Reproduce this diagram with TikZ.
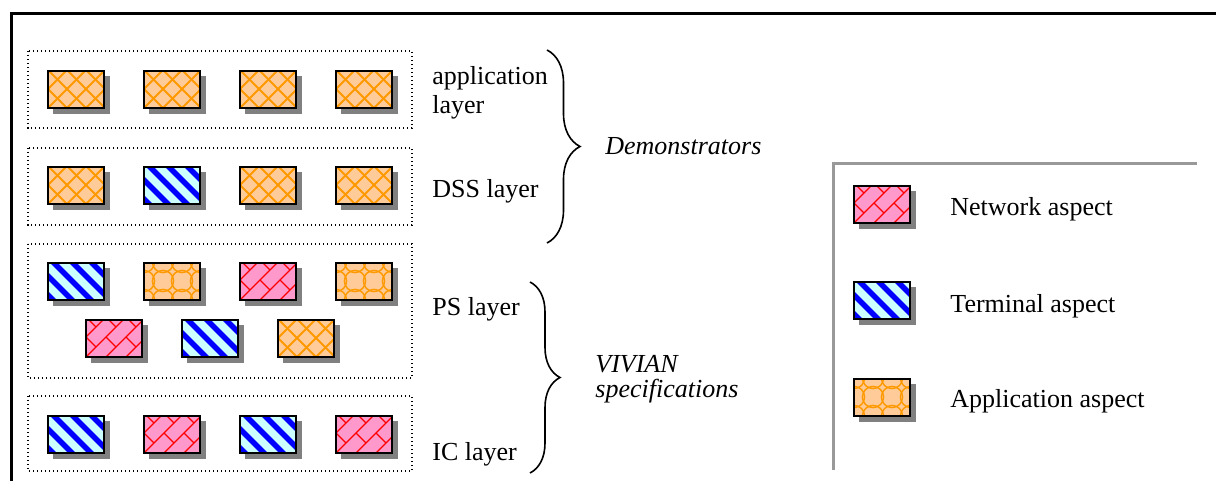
\documentclass[tikz,border=0pt]{standalone}
\usepackage{fontspec}
\setmainfont{Liberation Serif}
\usetikzlibrary{decorations.pathreplacing}
\definecolor{appfill}{HTML}{FFCC99}
\definecolor{appline}{HTML}{FF9900}
\definecolor{termfill}{HTML}{CCFFFF}
\definecolor{termline}{HTML}{0000FF}
\definecolor{netfill}{HTML}{FF99CC}
\definecolor{netline}{HTML}{FF0000}
\definecolor{shade}{HTML}{808080}
\definecolor{legline}{HTML}{999999}
\tikzset{
  boxbase/.style={draw=black, line width=1pt, minimum width=28pt, minimum height=18.5pt,
    inner sep=0pt, outer sep=0pt, anchor=north west},
  appx/.style={boxbase, fill=appfill, path picture={
      \foreach \i in {-3,...,5} {
        \draw[appline, line width=0.9pt] (path picture bounding box.south west) ++(\i*9.5pt,0pt) -- ++(25pt,25pt);
        \draw[appline, line width=0.9pt] (path picture bounding box.south west) ++(\i*9.5pt,0pt) -- ++(-25pt,25pt);}
    }},
  appc/.style={boxbase, fill=appfill, path picture={
      \foreach \i in {0,...,3} {\foreach \j in {0,...,2} {
        \draw[appline, line width=0.7pt] (path picture bounding box.south west) ++(\i*9.5pt,\j*9.5pt) circle (5.3pt);}}
    }},
  term/.style={boxbase, fill=termfill, path picture={
      \foreach \i in {-3,...,3} {
        \draw[termline, line width=2.8pt] (path picture bounding box.north west) ++(\i*9.5pt+1pt,2pt) -- ++(27pt,-27pt);}
    }},
  net/.style={boxbase, fill=netfill, path picture={
      \foreach \k in {-3,...,3} {
        \draw[netline, line width=0.6pt] (path picture bounding box.south west) ++(\k*10pt,0pt) -- ++(30pt,30pt);
        \foreach \j in {-1,...,3} {
          \draw[netline, line width=0.6pt] (path picture bounding box.south west) ++(\k*10pt+\j*10pt,\j*10pt) -- ++(5pt,-5pt);}}
    }},
  shadowbox/.style={fill=shade},
  lbl/.style={anchor=base west, inner sep=0pt, font=\fontsize{13pt}{14.5pt}\selectfont\rmfamily},
  itlbl/.style={lbl, font=\fontsize{13pt}{11.5pt}\selectfont\rmfamily\itshape},
  dotbox/.style={line width=0.7pt, dash pattern=on 0.7pt off 1.3pt},
  brc/.style={decorate, line width=0.8pt},
}
% #1 style, #2 name, #3 x, #4 y (pixels, top-left of the box)
\newcommand\aspectbox[4]{%
  \fill[shadowbox] (#3+5,#4+5) rectangle ++(57,38);
  \node[#1] (#2) at (#3,#4) {};
}
\begin{document}
\begin{tikzpicture}[x=0.5pt, y=-0.5pt]
\useasboundingbox (0,0) rectangle (1216,481);
% outer frame
\draw[line width=1.5pt] (1216,14) -- (11,14) -- (11,481);
% layer boxes
\draw[dotbox] (28,51) rectangle (412,128);
\draw[dotbox] (28,148) rectangle (412,225);
\draw[dotbox] (28,244) rectangle (412,378);
\draw[dotbox] (28,396) rectangle (412,471);
% application layer
\aspectbox{appx}{a1}{48}{71}
\aspectbox{appx}{a2}{144}{71}
\aspectbox{appx}{a3}{240}{71}
\aspectbox{appx}{a4}{336}{71}
% DSS layer
\aspectbox{appx}{d1}{48}{167}
\aspectbox{term}{d2}{144}{167}
\aspectbox{appx}{d3}{240}{167}
\aspectbox{appx}{d4}{336}{167}
% PS layer
\aspectbox{term}{p1}{48}{263}
\aspectbox{appc}{p2}{144}{263}
\aspectbox{net}{p3}{240}{263}
\aspectbox{appc}{p4}{336}{263}
\aspectbox{net}{q1}{86}{320}
\aspectbox{term}{q2}{182}{320}
\aspectbox{appx}{q3}{278}{320}
% IC layer
\aspectbox{term}{i1}{48}{416}
\aspectbox{net}{i2}{144}{416}
\aspectbox{term}{i3}{240}{416}
\aspectbox{net}{i4}{336}{416}
% legend
\draw[legline, line width=1.5pt] (833,470) -- (833,164) -- (1197,164);
\aspectbox{net}{ln}{854}{186}
\aspectbox{term}{lt}{854}{282}
\aspectbox{appc}{la}{854}{379}
\node[lbl] (tn) at (950,215) {Network aspect};
\node[lbl] (tt) at (950,312) {Terminal aspect};
\node[lbl] (ta) at (950,407) {Application aspect};
% labels
\node[lbl] (lapp) at (432,85) {\begin{tabular}[t]{@{}l@{}}application\\layer\end{tabular}};
\node[lbl] (ldss) at (432,198) {DSS layer};
\node[lbl] (lps) at (432,315) {PS layer};
\node[lbl] (lic) at (432,460) {IC layer};
% braces
\coordinate (bd1) at (547,50);
\coordinate (bd2) at (547,243);
\draw[brc, decoration={brace, amplitude=16.5pt}] (bd1) -- (bd2);
\coordinate (bv1) at (530,282);
\coordinate (bv2) at (530,473);
\draw[brc, decoration={brace, amplitude=15pt}] (bv1) -- (bv2);
\node[itlbl] (demo) at (605,155) {Demonstrators};
\node[itlbl] (viv) at (595,372) {\begin{tabular}[t]{@{}l@{}}VIVIAN\\specifications\end{tabular}};
\end{tikzpicture}
\end{document}
